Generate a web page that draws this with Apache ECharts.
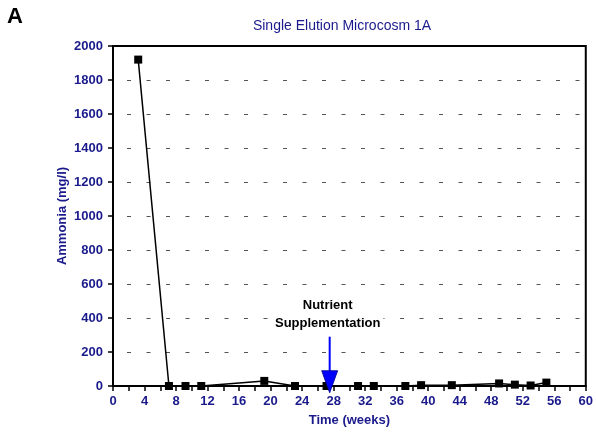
<!DOCTYPE html>
<html>
<head>
<meta charset="utf-8">
<script src="https://cdn.jsdelivr.net/npm/echarts@6/dist/echarts.min.js"></script>
<style>
  html, body { margin: 0; padding: 0; background: #fff; }
  #chart { width: 596px; height: 434px; }
</style>
</head>
<body>
<div id="chart"></div>
<script>
// Ammonia concentration over time, single elution microcosm 1A
const weeks   = [3.2, 7.1, 9.2, 11.2, 19.2, 23.1, 27.1, 31.1, 33.1, 37.1, 39.1, 43.0, 49.0, 51.0, 53.0, 55.0];
const ammonia = [1920, 0, 0, 0, 30, 0, 0, 0, 0, 0, 5, 5, 15, 8, 3, 20];

// Nutrient supplementation event (week, shaft top, head base, tip) in data units
const eventWeek = 27.5;
const eventShaftTop = 290;
const eventHeadBase = 90;
const eventTip = -40;
const eventLabel = 'Nutrient\nSupplementation';

const navy = '#1a1a8c';
const font = '"Liberation Sans", Arial, sans-serif';

const chart = echarts.init(document.getElementById('chart'), null, { renderer: 'canvas' });

chart.setOption({
  animation: false,
  backgroundColor: '#fff',
  title: {
    text: 'Single Elution Microcosm 1A',
    left: 337, top: 14, textAlign: 'center',
    textStyle: { color: navy, fontFamily: font, fontSize: 14, fontWeight: 'normal' }
  },
  graphic: [{
    type: 'text', left: 7, top: 6,
    style: { text: 'A', fill: '#000', font: 'bold 22px ' + font }
  }],
  grid: {
    left: 113, right: 7, top: 46, bottom: 48,
    show: true, borderColor: '#000', borderWidth: 2, backgroundColor: 'transparent'
  },
  xAxis: {
    type: 'value', min: 0, max: 60, interval: 2,
    name: 'Time (weeks)', nameLocation: 'middle', nameGap: 28,
    nameTextStyle: { color: navy, fontFamily: font, fontSize: 13, fontWeight: 'bold' },
    axisLine: { show: true, onZero: false, lineStyle: { color: '#000', width: 2 } },
    axisTick: { show: true, inside: false, length: 5, lineStyle: { color: '#000', width: 1.5 } },
    axisLabel: {
      color: navy, fontFamily: font, fontSize: 13, fontWeight: 'bold', margin: 9,
      formatter: v => (v % 4 === 0 ? String(v) : '')
    },
    splitLine: { show: false }
  },
  yAxis: {
    type: 'value', min: 0, max: 2000, interval: 200,
    name: 'Ammonia (mg/l)', nameLocation: 'middle', nameGap: 44, nameRotate: 90,
    nameMoveOverlap: false,
    nameTextStyle: { color: navy, fontFamily: font, fontSize: 13, fontWeight: 'bold' },
    axisLine: { show: true, lineStyle: { color: '#000', width: 2 } },
    axisTick: { show: true, inside: false, length: 5, lineStyle: { color: '#000', width: 1.5 } },
    axisLabel: {
      color: navy, fontFamily: font, fontSize: 13, fontWeight: 'bold', margin: 10,
      formatter: v => String(v)
    },
    splitLine: {
      show: true, showMinLine: false, showMaxLine: false,
      lineStyle: { color: '#555', width: 1, type: [4, 15.5], dashOffset: -14 }
    }
  },
  series: [
    {
      type: 'line',
      data: weeks.map((w, i) => [w, ammonia[i]]),
      symbol: 'rect', symbolSize: 8,
      itemStyle: { color: '#000' },
      lineStyle: { color: '#000', width: 1.5 },
      z: 3
    },
    {
      type: 'custom',
      clip: false,
      z: 5,
      data: [[eventWeek, eventShaftTop, eventHeadBase, eventTip]],
      renderItem: function (params, api) {
        const top = api.coord([api.value(0), api.value(1)]);
        const base = api.coord([api.value(0), api.value(2)]);
        const tip = api.coord([api.value(0), api.value(3)]);
        const half = 8;
        return {
          type: 'group',
          children: [
            {
              type: 'line',
              shape: { x1: top[0], y1: top[1], x2: base[0], y2: base[1] + 1 },
              style: { stroke: '#0000ff', lineWidth: 2 }
            },
            {
              type: 'polygon',
              shape: { points: [[base[0] - half, base[1]], [base[0] + half, base[1]], [tip[0], tip[1]]] },
              style: { fill: '#0000ff', stroke: '#00008a', lineWidth: 0.8 }
            },
            {
              type: 'text',
              x: top[0] - 2, y: top[1] - 4,
              style: {
                text: eventLabel, textAlign: 'center', textVerticalAlign: 'bottom',
                fill: '#000', font: 'bold 13px ' + font, lineHeight: 18,
                backgroundColor: '#fff', padding: [0, 3, 0, 3]
              }
            }
          ]
        };
      }
    }
  ]
});
</script>
</body>
</html>
